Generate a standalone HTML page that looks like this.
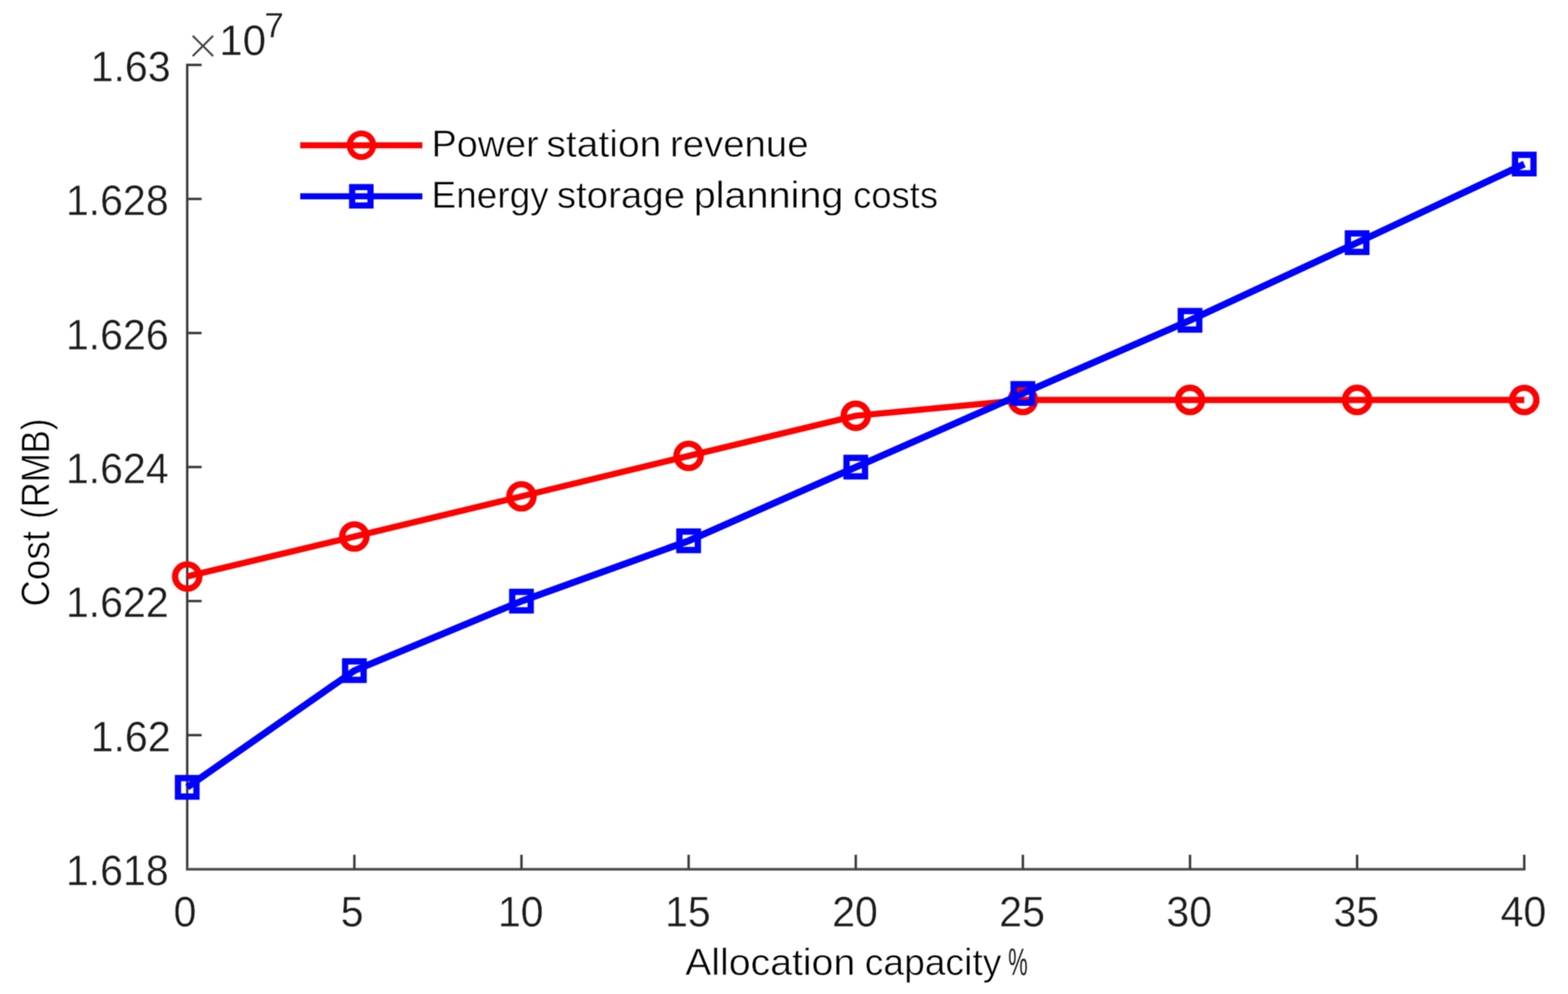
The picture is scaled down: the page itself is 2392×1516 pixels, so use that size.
<!DOCTYPE html>
<html lang="en"><head><meta charset="utf-8"><title>Cost vs allocation capacity</title>
<style>
html,body{margin:0;padding:0;background:#fff;}
body{width:2392px;height:1516px;overflow:hidden;}
svg{display:block;}
text{font-family:"Liberation Sans",sans-serif;}
.tick{font-size:62.7px;fill:#1c1c1c;stroke:#fff;stroke-width:0.45px;paint-order:fill stroke;}
.sup{font-size:53.5px;fill:#1c1c1c;stroke:#fff;stroke-width:0.36px;paint-order:fill stroke;}
.mul{font-size:84px;fill:#444;stroke:#fff;stroke-width:2.8px;paint-order:fill stroke;}
.lab{font-size:58px;fill:#000;stroke:#fff;stroke-width:0.8px;paint-order:fill stroke;}
.pct{fill:#222;stroke:none;}
</style></head><body>
<svg width="2392" height="1516" viewBox="0 0 2392 1516" role="img" aria-label="Cost (RMB) versus allocation capacity %: power station revenue and energy storage planning costs">
<defs><filter id="soft" x="0" y="0" width="2392" height="1516" filterUnits="userSpaceOnUse" color-interpolation-filters="sRGB"><feConvolveMatrix order="3" kernelMatrix="1 2 1 2 4 2 1 2 1" divisor="16" edgeMode="duplicate" preserveAlpha="true"/></filter></defs>
<g filter="url(#soft)">
<rect x="0" y="0" width="2392" height="1516" fill="#ffffff"/>
<g stroke="#3a3a3a" stroke-width="3.7" fill="none" stroke-linecap="butt">
<path d="M285.6 97.2 V1327.6"/>
<path d="M283.8 1325.7 H2327.2" stroke="#4c4c4c" stroke-width="4"/>
<path d="M540.6 1325.6 v-22"/>
<path d="M795.5 1325.6 v-22"/>
<path d="M1050.5 1325.6 v-22"/>
<path d="M1305.5 1325.6 v-22"/>
<path d="M1560.4 1325.6 v-22"/>
<path d="M1815.4 1325.6 v-22"/>
<path d="M2070.3 1325.6 v-22"/>
<path d="M2325.3 1325.6 v-22"/>
<path d="M285.6 1121.2 h22"/>
<path d="M285.6 916.7 h22"/>
<path d="M285.6 712.3 h22"/>
<path d="M285.6 507.9 h22"/>
<path d="M285.6 303.4 h22"/>
<path d="M285.6 99.0 h22"/>
</g>
<text class="tick" transform="translate(257.3 1350.2) scale(1 1.02)" text-anchor="end">1.618</text>
<text class="tick" transform="translate(260.3 1145.8) scale(1 1.02)" text-anchor="end">1.62</text>
<text class="tick" transform="translate(257.3 941.3) scale(1 1.02)" text-anchor="end">1.622</text>
<text class="tick" transform="translate(257.3 736.9) scale(1 1.02)" text-anchor="end">1.624</text>
<text class="tick" transform="translate(257.3 532.5) scale(1 1.02)" text-anchor="end">1.626</text>
<text class="tick" transform="translate(257.3 328.0) scale(1 1.02)" text-anchor="end">1.628</text>
<text class="tick" transform="translate(260.3 123.6) scale(1 1.02)" text-anchor="end">1.63</text>
<text class="tick" transform="translate(282.2 1412.8) scale(1 1.02)" text-anchor="middle">0</text>
<text class="tick" transform="translate(537.2 1412.8) scale(1 1.02)" text-anchor="middle">5</text>
<text class="tick" transform="translate(794.3 1412.8) scale(1 1.02)" text-anchor="middle">10</text>
<text class="tick" transform="translate(1049.3 1412.8) scale(1 1.02)" text-anchor="middle">15</text>
<text class="tick" transform="translate(1304.3 1412.8) scale(1 1.02)" text-anchor="middle">20</text>
<text class="tick" transform="translate(1559.2 1412.8) scale(1 1.02)" text-anchor="middle">25</text>
<text class="tick" transform="translate(1814.2 1412.8) scale(1 1.02)" text-anchor="middle">30</text>
<text class="tick" transform="translate(2069.1 1412.8) scale(1 1.02)" text-anchor="middle">35</text>
<text class="tick" transform="translate(2324.1 1412.8) scale(1 1.02)" text-anchor="middle">40</text>
<text class="tick"><tspan class="mul" x="285.0" y="98.4">×</tspan><tspan x="334.6" y="83.8" style="font-size:64px">10</tspan><tspan class="sup" x="403.2" y="56.9">7</tspan></text>
<text class="lab" xml:space="preserve"><tspan x="1045.2" y="1487.3" textLength="259.5" lengthAdjust="spacingAndGlyphs">Allocation</tspan> <tspan x="1319.2" y="1487.3" textLength="208.4" lengthAdjust="spacingAndGlyphs">capacity</tspan> <tspan class="pct" x="1538.0" y="1487.3" textLength="29.8" lengthAdjust="spacingAndGlyphs">%</tspan></text>
<text class="lab" transform="translate(74.9 921.8) rotate(-90) scale(1 1.05)" xml:space="preserve"><tspan x="-3.2" y="0.0" textLength="114.9" lengthAdjust="spacingAndGlyphs">Cost</tspan> <tspan x="130.3" y="0.0" textLength="153.1" lengthAdjust="spacingAndGlyphs">(RMB)</tspan></text>
<g stroke="#ff0000" fill="none">
<polyline points="285.6,879.2 540.6,818.3 795.5,757.0 1050.5,695.3 1305.5,634.1 1560.4,610.0 1815.4,609.9 2070.3,609.9 2325.3,610.0" stroke-width="9.5" stroke-linejoin="miter"/>
<circle cx="285.6" cy="879.2" r="18.5" stroke-width="9.6"/>
<circle cx="540.6" cy="818.3" r="18.5" stroke-width="9.6"/>
<circle cx="795.5" cy="757.0" r="18.5" stroke-width="9.6"/>
<circle cx="1050.5" cy="695.3" r="18.5" stroke-width="9.6"/>
<circle cx="1305.5" cy="634.1" r="18.5" stroke-width="9.6"/>
<circle cx="1560.4" cy="610.0" r="18.5" stroke-width="9.6"/>
<circle cx="1815.4" cy="609.9" r="18.5" stroke-width="9.6"/>
<circle cx="2070.3" cy="609.9" r="18.5" stroke-width="9.6"/>
<circle cx="2325.3" cy="610.0" r="18.5" stroke-width="9.6"/>
</g>
<g stroke="#0000ff" fill="none">
<polyline points="285.6,1200.8 540.6,1022.8 795.5,916.8 1050.5,824.8 1305.5,712.4 1560.4,600.1 1815.4,488.5 2070.3,370.1 2325.3,250.2" stroke-width="10.4" stroke-linejoin="miter"/>
<rect x="271.5" y="1186.7" width="28.2" height="28.2" stroke-width="9.6"/>
<rect x="526.5" y="1008.7" width="28.2" height="28.2" stroke-width="9.6"/>
<rect x="781.4" y="902.7" width="28.2" height="28.2" stroke-width="9.6"/>
<rect x="1036.4" y="810.7" width="28.2" height="28.2" stroke-width="9.6"/>
<rect x="1291.4" y="698.3" width="28.2" height="28.2" stroke-width="9.6"/>
<rect x="1546.3" y="586.0" width="28.2" height="28.2" stroke-width="9.6"/>
<rect x="1801.3" y="474.4" width="28.2" height="28.2" stroke-width="9.6"/>
<rect x="2056.2" y="356.0" width="28.2" height="28.2" stroke-width="9.6"/>
<rect x="2311.2" y="236.1" width="28.2" height="28.2" stroke-width="9.6"/>
</g>
<g fill="none">
<path d="M458 221.7 H644.3" stroke="#ff0000" stroke-width="9.2"/>
<circle cx="551.3" cy="221.5" r="18" stroke="#ff0000" stroke-width="9"/>
<path d="M458 299.4 H644.3" stroke="#0000ff" stroke-width="9.2"/>
<rect x="537.2" y="285.4" width="28" height="28" stroke="#0000ff" stroke-width="9.4"/>
</g>
<text class="lab" xml:space="preserve"><tspan x="658.2" y="239.4" textLength="163.6" lengthAdjust="spacingAndGlyphs">Power</tspan> <tspan x="833.6" y="239.4" textLength="175.3" lengthAdjust="spacingAndGlyphs">station</tspan> <tspan x="1021.9" y="239.4" textLength="211.6" lengthAdjust="spacingAndGlyphs">revenue</tspan></text>
<text class="lab" xml:space="preserve"><tspan x="658.3" y="317.2" textLength="178.8" lengthAdjust="spacingAndGlyphs">Energy</tspan> <tspan x="849.5" y="317.2" textLength="195.5" lengthAdjust="spacingAndGlyphs">storage</tspan> <tspan x="1058.2" y="317.2" textLength="228.5" lengthAdjust="spacingAndGlyphs">planning</tspan> <tspan x="1301.4" y="317.2" textLength="129.7" lengthAdjust="spacingAndGlyphs">costs</tspan></text>
</g>
</svg></body></html>
